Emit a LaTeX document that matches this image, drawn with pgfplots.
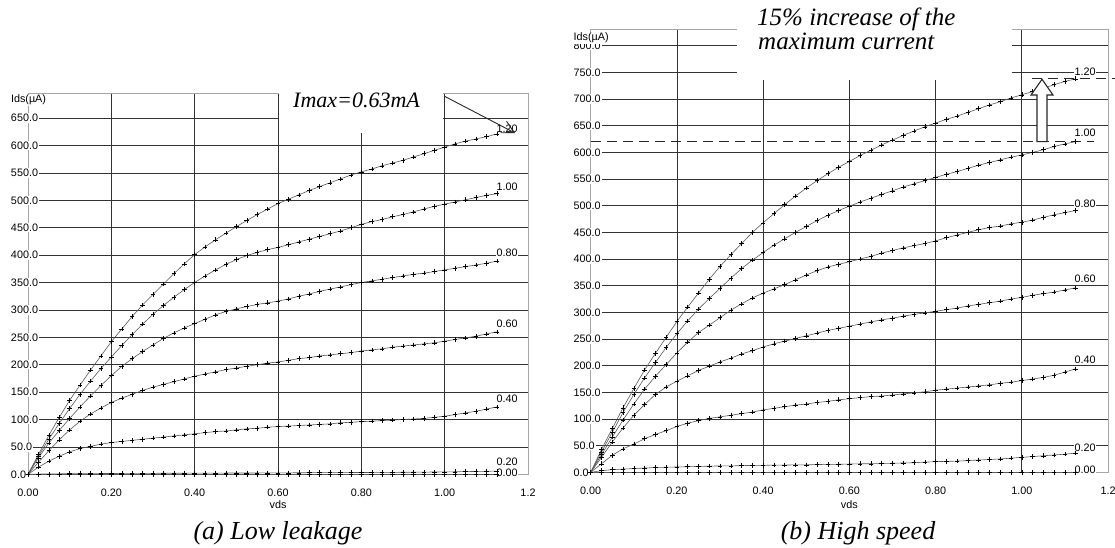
\documentclass[border=0pt]{standalone}
\usepackage{pgfplots}
\pgfplotsset{compat=1.18}
\usepackage{pgfplotstable}
\usepackage{fontspec}
\setmainfont{Liberation Serif}
\setsansfont{Liberation Sans}
\usetikzlibrary{arrows.meta}

% Ids (uA) against vds, one column per gate voltage
\pgfplotstableread{
vds   g0 g2  g4  g6  g8  g10 g12
0.000 0 0.0  0   0   0   0   0
0.025 0 0.4  13  22  30  33  36
0.050 0 0.7  24  43  57  64  71
0.075 0 0.9  33  63  80  93  104
0.100 0 1.1  41  81  102 120 135
0.125 0 1.2  47  97  123 146 163
0.150 0 1.3  51  110 143 170 190
0.175 0 1.4  55  121 162 193 216
0.200 0 1.5  58  131 180 214 242
0.225 0 1.6  60  139 197 235 265
0.250 0 1.7  62  146 211 255 288
0.275 0 1.8  64  153 224 274 309
0.300 0 1.8  66  159 236 292 328
0.325 0 1.9  68  164 248 308 347
0.350 0 2.0  70  169 258 323 366
0.375 0 2.0  72  174 267 337 384
0.400 0 2.1  74  179 275 350 401
0.425 0 2.2  76  183 283 362 415
0.450 0 2.2  78  187 291 373 428
0.475 0 2.3  79  191 297 383 440
0.500 0 2.4  81  194 302 392 452
0.525 0 2.4  83  197 306 399 463
0.550 0 2.5  84  200 310 405 474
0.575 0 2.6  86  203 313 410 484
0.600 0 2.6  87  205 316 414 494
0.625 0 2.7  88  208 320 419 502
0.650 0 2.8  89  211 325 424 510
0.675 0 2.9  90  213 329 429 518
0.700 0 3.0  91  216 334 434 525
0.725 0 3.0  92  218 338 439 532
0.750 0 3.1  94  220 342 444 539
0.775 0 3.2  95  222 346 450 546
0.800 0 3.3  96  225 350 456 552
0.825 0 3.4  97  227 353 461 557
0.850 0 3.5  98  229 356 465 563
0.875 0 3.6  99  232 359 470 568
0.900 0 3.7  100 234 362 474 573
0.925 0 3.9  101 236 365 479 579
0.950 0 4.0  102 238 367 484 585
0.975 0 4.2  104 240 370 489 591
1.000 0 4.4  106 243 373 493 597
1.025 0 4.6  109 246 376 497 603
1.050 0 4.9  112 249 379 501 608
1.075 0 5.2  115 252 382 505 612
1.100 0 5.5  119 256 385 509 616
1.125 0 5.9  123 260 389 512 621
}\lowleak

\pgfplotstableread{
vds   g0 g2   g4  g6  g8  g10 g12
0.000 0 0     0   0   0   0   0
0.025 0 3     16  28  33  38  43
0.050 0 5     32  57  66  75  82
0.075 0 6     44  83  98  112 121
0.100 0 7     53  107 128 146 157
0.125 0 8     63  127 156 177 192
0.150 0 9     71  146 180 206 223
0.175 0 9.5   78  160 202 234 253
0.200 0 10    86  171 224 260 283
0.225 0 10.5  92  181 244 284 310
0.250 0 11    97  191 262 306 336
0.275 0 11.5  101 199 276 326 362
0.300 0 12    104 207 290 345 386
0.325 0 12    107 214 304 364 408
0.350 0 12.5  110 222 316 382 429
0.375 0 13    113 228 327 398 450
0.400 0 13    117 235 336 412 468
0.425 0 13.5  120 241 344 426 485
0.450 0 13.5  123 246 352 438 502
0.475 0 14    126 251 361 450 518
0.500 0 14    128 256 370 461 533
0.525 0 14.5  131 261 378 472 547
0.550 0 15    133 266 385 482 560
0.575 0 15    136 270 390 491 572
0.600 0 15.5  138 274 395 499 583
0.625 0 16    140 278 400 507 594
0.650 0 16    142 282 405 514 604
0.675 0 16.5  143 286 411 521 614
0.700 0 17    145 289 416 528 623
0.725 0 17.5  147 293 421 535 632
0.750 0 18    149 296 425 541 640
0.775 0 19    151 299 429 547 648
0.800 0 20    154 302 434 553 655
0.825 0 20.5  156 305 440 559 662
0.850 0 21    158 308 445 564 668
0.875 0 22    160 312 450 570 675
0.900 0 23    162 315 455 576 682
0.925 0 24    164 318 459 581 689
0.950 0 25    167 321 462 586 695
0.975 0 26.5  169 325 466 591 702
1.000 0 28    172 328 469 595 708
1.025 0 29.5  175 332 473 600 714
1.050 0 31    178 335 478 605 720
1.075 0 32.5  182 338 483 611 727
1.100 0 34    188 342 487 616 733
1.125 0 36    194 346 491 620 738
}\highspeed

\newcommand\lbl{\sffamily\fontsize{10.8}{11}\selectfont}

\pgfplotsset{
  ivaxis/.style={
    scale only axis, anchor=south west,
    xmin=0, xmax=1.2, ymin=0,
    xtick={0,0.2,0.4,0.6,0.8,1.0,1.2},
    xticklabels={0.00,0.20,0.40,0.60,0.80,1.00,1.2},
    grid=major,
    major grid style={black!80, line width=0.75pt},
    major tick length=0pt,
    axis line style={black!35, line width=0.9pt},
    tick label style={font=\lbl},
    xticklabel style={yshift=-11.5pt},
    yticklabel style={anchor=west, xshift=-18pt, fill=white, inner sep=0.8pt},
    clip=false,
  },
  ivcurve/.style={black!65, line width=0.6pt, mark=+, mark size=2.3pt,
    mark options={black, line width=0.5pt, solid}},
}
\tikzset{curvelbl/.style={font=\lbl, fill=white, inner sep=0.8pt}}

\begin{document}
\begin{tikzpicture}
\useasboundingbox (0,0) rectangle (1115pt,547pt);

% (a) low leakage
\begin{axis}[ivaxis,
  at={(28pt,72.7pt)}, width=500pt, height=381.3pt, ymax=695.8,
  ytick={0,50,...,650},
  yticklabels={0.0,50.0,100.0,150.0,200.0,250.0,300.0,350.0,400.0,450.0,500.0,550.0,600.0,650.0},
]
\foreach \g in {g0,g2,g4,g6,g8,g10,g12}{
  \addplot[ivcurve] table[x=vds, y=\g] {\lowleak};
}
\node[curvelbl] at (axis cs:1.15,631) {1.20};
\node[curvelbl] at (axis cs:1.15,525) {1.00};
\node[curvelbl] at (axis cs:1.15,404) {0.80};
\node[curvelbl] at (axis cs:1.15,274) {0.60};
\node[curvelbl] at (axis cs:1.15,137) {0.40};
\node[curvelbl] at (axis cs:1.15,23) {0.20};
\node[curvelbl] at (axis cs:1.15,2) {0.00};
\end{axis}

% (b) high speed
\begin{axis}[ivaxis,
  at={(590.7pt,74.7pt)}, width=517.3pt, height=443pt, ymax=830.8,
  ytick={0,50,...,800},
  yticklabels={0.0,50.0,100.0,150.0,200.0,250.0,300.0,350.0,400.0,450.0,500.0,550.0,600.0,650.0,700.0,750.0,800.0},
]
\foreach \g in {g0,g2,g4,g6,g8,g10,g12}{
  \addplot[ivcurve] table[x=vds, y=\g] {\highspeed};
}
\draw[black!85, line width=1.3pt, dash pattern=on 10pt off 6pt]
  (axis cs:0,620) -- (axis cs:1.167,620);
\draw[black!85, line width=1.3pt, dash pattern=on 10pt off 6pt]
  (axis cs:1.023,738) -- (axis cs:1.23,738);
\node[curvelbl] at (axis cs:1.147,752) {1.20};
\node[curvelbl] at (axis cs:1.147,637) {1.00};
\node[curvelbl] at (axis cs:1.147,504) {0.80};
\node[curvelbl] at (axis cs:1.147,362) {0.60};
\node[curvelbl] at (axis cs:1.147,211) {0.40};
\node[curvelbl] at (axis cs:1.147,46) {0.20};
\node[curvelbl] at (axis cs:1.147,5) {0.00};
\end{axis}

% annotation boxes
\fill[white] (279pt,414pt) rectangle (443pt,467pt);
\fill[white] (737pt,467pt) rectangle (1012pt,547pt);

\node[anchor=base west, inner sep=0, font=\fontsize{22}{22}\selectfont\itshape]
  at (293pt,439pt) {Imax=0.63mA};
\node[anchor=base west, inner sep=0, font=\fontsize{25}{25}\selectfont\itshape]
  at (757pt,521pt) {15\% increase of the};
\node[anchor=base west, inner sep=0, font=\fontsize{25}{25}\selectfont\itshape]
  at (758pt,497pt) {maximum current};

\draw[black!85, line width=0.9pt, -{Straight Barb[length=12pt,width=13pt]}]
  (444pt,451pt) -- (515pt,414pt);
\draw[black!85, line width=1.1pt, fill=white]
  (1037pt,405.3pt) -- (1037pt,452pt) -- (1031pt,452pt) -- (1042pt,467.7pt)
  -- (1053pt,452pt) -- (1047pt,452pt) -- (1047pt,405.3pt) -- cycle;

% axis titles
\node[anchor=west, fill=white, inner sep=0.8pt, font=\lbl] at (10pt,447pt) {Ids(µA)};
\node[anchor=west, fill=white, inner sep=0.8pt, font=\lbl] at (572.7pt,509pt) {Ids(µA)};
\node[font=\lbl] at (278pt,42pt) {vds};
\node[font=\lbl] at (849.3pt,42pt) {vds};

% captions
\node[anchor=base, font=\fontsize{26}{26}\selectfont\itshape] at (278pt,8pt) {(a) Low leakage};
\node[anchor=base, font=\fontsize{26}{26}\selectfont\itshape] at (858pt,8pt) {(b) High speed};
\end{tikzpicture}
\end{document}
